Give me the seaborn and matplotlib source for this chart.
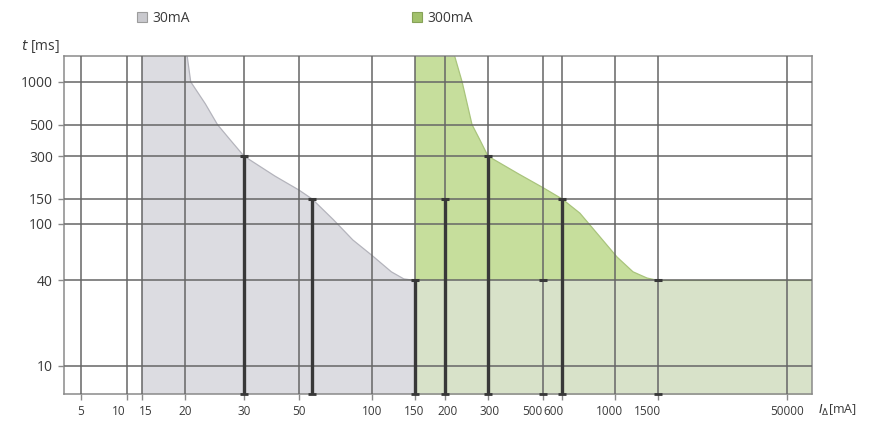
import numpy as np
import matplotlib
matplotlib.use("Agg")
import matplotlib.pyplot as plt
import matplotlib.transforms as mtransforms
from matplotlib.patches import Patch
import seaborn as sns

# ---------------- data ----------------
X_TICKS = [5, 10, 15, 20, 30, 50, 100, 150, 200, 300, 500, 600, 1000, 1500, 50000]
X_TICK_LABELS = ["5", "10", "15", "20", "30", "50", "100", "150", "200", "300",
                 "500", "600", "1000", "1500", "50000"]
Y_TICKS = [10, 40, 100, 150, 300, 500, 1000]
Y_TICK_LABELS = ["10", "40", "100", "150", "300", "500", "1000"]

# 30 mA trip-time limit curve (current mA, time ms)
I_30 = [15, 20.3, 20.8, 23.0, 25.0, 27.3, 30, 40, 50, 60, 72, 85, 100, 120, 135, 150]
T_30 = [2000, 1520, 1000, 700, 500, 390, 300, 217, 173, 150, 107, 77, 60, 46, 41, 40]

# 300 mA trip-time limit curve
I_300 = [150, 219, 235, 258, 278, 300, 400, 500, 600, 713, 840, 1019, 1185, 1352, 1500, 98600]
T_300 = [2000, 1520, 1000, 500, 390, 300, 224, 180, 150, 119, 86, 58.5, 46, 41.6, 40, 40]

# Common region (both limits <= 40 ms beyond 5 x IΔn of 30 mA)
I_LOW = [150, 98600]
T_LOW = [40, 40]

# Marked test points (thick verticals)
SEG_I = [30, 60, 150, 200, 300, 600]
SEG_T = [300, 150, 40, 150, 300, 150]
DOT_I = [500, 1500]
DOT_T = [40, 40]

LEGEND_LABELS = ["30mA", "300mA"]

# ---------------- axis scale (piecewise log, as printed) ----------------
SCALE_VALS = [5, 10, 15, 20, 30, 50, 60, 100, 150, 200, 300, 500, 600, 1000, 1500, 50000]
SCALE_POS = [81, 127, 142, 185, 244, 299, 312, 372, 415, 445, 488, 543, 562, 615, 658, 787]
LX = np.log10(SCALE_VALS)
PX = np.array(SCALE_POS, dtype=float)

# horizontal nudges of x tick labels (pixels), as printed
X_LABEL_NUDGE = [0, -8, 4, 0, 0, 0, 0, -1, 3, 2, -11, -8, -6, -11, 0]


def _fwd(v):
    v = np.asarray(v, dtype=float)
    lv = np.log10(np.clip(v, 1e-12, None))
    out = np.interp(lv, LX, PX)
    s0 = (PX[1] - PX[0]) / (LX[1] - LX[0])
    s1 = (PX[-1] - PX[-2]) / (LX[-1] - LX[-2])
    out = np.where(lv < LX[0], PX[0] + (lv - LX[0]) * s0, out)
    out = np.where(lv > LX[-1], PX[-1] + (lv - LX[-1]) * s1, out)
    return out


def _inv(p):
    p = np.asarray(p, dtype=float)
    out = np.interp(p, PX, LX)
    s0 = (LX[1] - LX[0]) / (PX[1] - PX[0])
    s1 = (LX[-1] - LX[-2]) / (PX[-1] - PX[-2])
    out = np.where(p < PX[0], LX[0] + (p - PX[0]) * s0, out)
    out = np.where(p > PX[-1], LX[-1] + (p - PX[-1]) * s1, out)
    return 10 ** out


# ---------------- style ----------------
sns.set_theme(style="white")
plt.rcParams["font.family"] = ["Open Sans", "DejaVu Sans"]
TXT = "#3a3a3a"
GRID = "#666666"
DARK = "#383838"
C_GRAY = "#dcdce1"
C_GREEN = "#c6de9c"
C_LOW = "#d8e2c9"

fig = plt.figure(figsize=(8.74, 4.21), dpi=100)
ax = fig.add_axes([64 / 874, 27 / 421, 748 / 874, 338 / 421])

ax.set_xscale("function", functions=(_fwd, _inv))
ax.set_yscale("log")
ax.set_xlim(float(_inv(64)), float(_inv(812)))
ax.set_ylim(6.35, 1520)

# fills
ax.fill_between(I_30, 0.1, T_30, color=C_GRAY, lw=0, zorder=1)
ax.fill_between(I_300, 0.1, T_300, color=C_GREEN, lw=0, zorder=1)
ax.fill_between(I_LOW, 0.1, T_LOW, color=C_LOW, lw=0, zorder=1.1)

# boundary curves
sns.lineplot(x=I_30[1:], y=T_30[1:], ax=ax, color="#b4b4bc", lw=0.9,
             estimator=None, sort=False, zorder=1.5)
sns.lineplot(x=I_300[1:], y=T_300[1:], ax=ax, color="#a9c47c", lw=0.9,
             estimator=None, sort=False, zorder=1.5)

# ticks / grid
ax.set_xticks(X_TICKS)
ax.set_xticklabels(X_TICK_LABELS)
ax.set_yticks(Y_TICKS)
ax.set_yticklabels(Y_TICK_LABELS)
ax.yaxis.set_minor_locator(matplotlib.ticker.NullLocator())
ax.xaxis.set_minor_locator(matplotlib.ticker.NullLocator())
ax.set_axisbelow(False)
ax.grid(True, which="major", color=GRID, lw=1.1, zorder=2.5)
ax.tick_params(axis="both", which="major", length=4, width=1, color="#8a8a8a",
               labelcolor=TXT, direction="out", bottom=True, left=True)
ax.tick_params(axis="x", which="major", pad=4, labelsize=8.5)
ax.tick_params(axis="y", which="major", pad=4, labelsize=10)

for s in ax.spines.values():
    s.set_color("#8a8a8a")
    s.set_linewidth(1.1)

# thick test-point verticals
ymin = ax.get_ylim()[0]
ax.vlines(SEG_I, ymin, SEG_T, color=DARK, lw=2.4, zorder=3)
sns.scatterplot(x=SEG_I + DOT_I, y=SEG_T + DOT_T, ax=ax, marker="_", s=36,
                color=DARK, linewidth=2.2, zorder=4)
sns.scatterplot(x=SEG_I + DOT_I, y=[ymin] * (len(SEG_I) + len(DOT_I)), ax=ax,
                marker="_", s=30, color=DARK, linewidth=2.0, zorder=4, clip_on=False)

ax.set_xlabel("")
ax.set_ylabel("")

# axis titles
ax.text(-0.006, 1.027, r"$t$ [ms]", transform=ax.transAxes, ha="right", va="center",
        fontsize=10, color=TXT)
ax.text(1.008, -0.048, r"$I_{\Delta}$[mA]", transform=ax.transAxes, ha="left", va="center",
        fontsize=9, color=TXT)

# legends
h1 = Patch(facecolor="#c9c9ce", edgecolor="#9c9c9c", lw=0.8)
h2 = Patch(facecolor="#a2c16c", edgecolor="#86a258", lw=0.8)
for h, lab, xp in [(h1, LEGEND_LABELS[0], 137), (h2, LEGEND_LABELS[1], 412)]:
    fig.legend(handles=[h], labels=[lab], loc="center left",
               bbox_to_anchor=(xp / 874, 1 - 18 / 421), frameon=False,
               handlelength=0.75, handleheight=0.75, handletextpad=0.35,
               borderpad=0, borderaxespad=0, fontsize=10, labelcolor=TXT)

fig.canvas.draw()
for lbl, dx in zip(ax.get_xticklabels(), X_LABEL_NUDGE):
    lbl.set_transform(lbl.get_transform() +
                      mtransforms.ScaledTranslation(dx / 100, 0, fig.dpi_scale_trans))

fig.savefig("out.png", dpi=100)
